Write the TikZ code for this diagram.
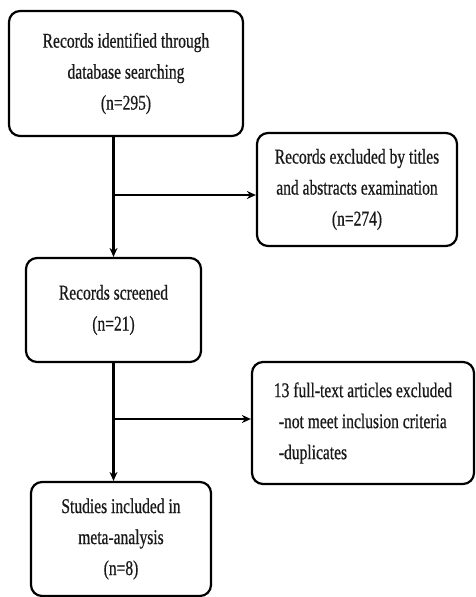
\documentclass[tikz,border=0pt]{standalone}
\usepackage{fontspec}
\setmainfont{Liberation Serif}[FakeStretch=0.74,FakeBold=0.6]
\usetikzlibrary{arrows.meta}
\begin{document}
\begin{tikzpicture}[x=1pt,y=-1pt,
  box/.style={draw=black,line width=2.2pt,rounded corners=11pt,inner sep=0pt,
    font={\fontsize{21}{31}\selectfont},text=black!90},
  conn/.style={draw=black,line width=2.2pt},
  arr/.style={conn,-{Stealth[length=9pt,width=8pt]}}]
\useasboundingbox (0,0) rectangle (475,597);
\node[box,minimum width=234pt,minimum height=125pt,align=center] (b1) at (126,73.5)
  {Records identified through\\database searching\\(n=295)};
\node[box,minimum width=200pt,minimum height=113pt,align=center] (b2) at (357,189.5)
  {Records excluded by titles\\and abstracts examination\\(n=274)};
\node[box,minimum width=175pt,minimum height=104pt,align=center] (b3) at (113.5,310)
  {Records screened\\(n=21)};
\node[box,minimum width=222pt,minimum height=122pt,align=left] (b4) at (363,423)
  {13 full-text articles excluded\\\hspace{5pt}-not meet inclusion criteria\\\hspace{5pt}-duplicates};
\node[box,minimum width=180pt,minimum height=114pt,align=center] (b5) at (121,539)
  {Studies included in\\meta-analysis\\(n=8)};
\coordinate (j1) at (113,195);
\coordinate (j2) at (113,419);
\draw[arr] (b1.south -| b3) -- (b3.north);
\draw[arr] (j1) -- (j1 -| b2.west);
\draw[arr] (b3.south) -- (b3.south |- b5.north);
\draw[arr] (j2) -- (j2 -| b4.west);
\end{tikzpicture}
\end{document}
